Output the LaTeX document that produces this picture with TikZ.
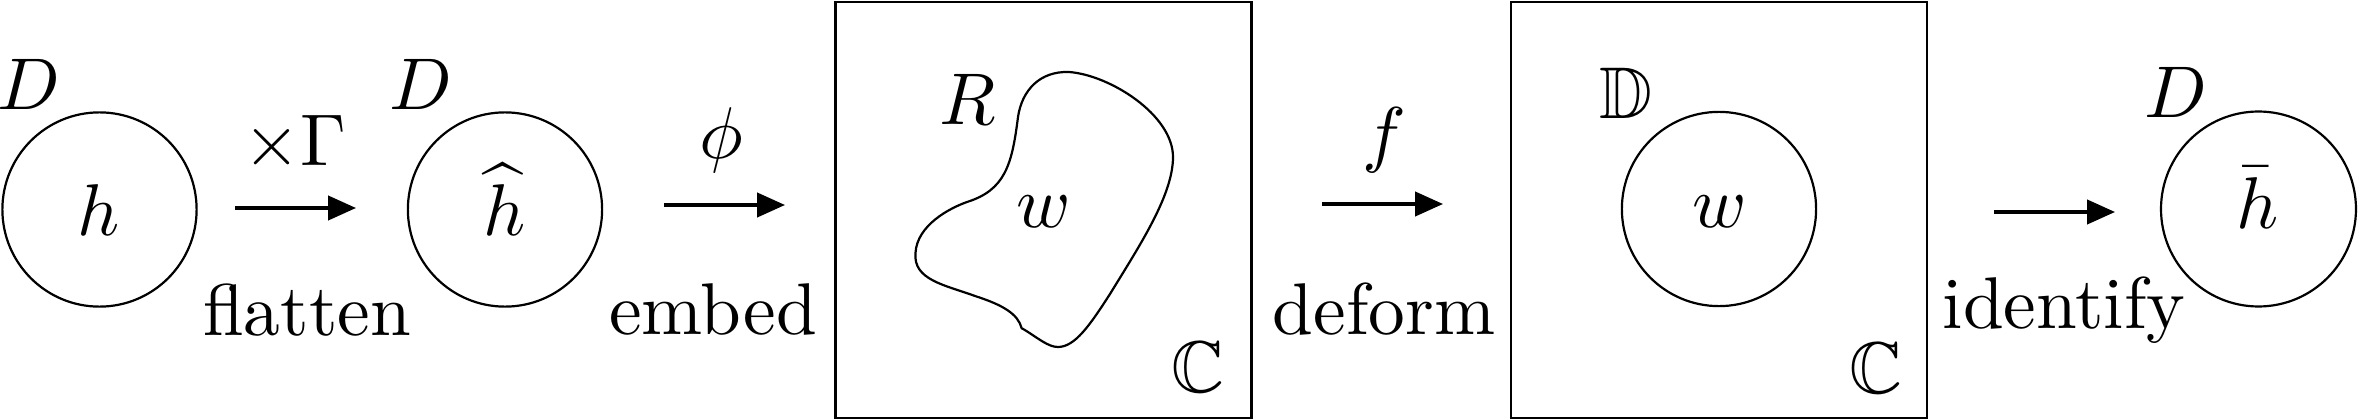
\documentclass[tikz,border=0pt]{standalone}
\usepackage{amssymb}
\usetikzlibrary{arrows.meta}
\begin{document}
\begin{tikzpicture}[x=0.13643pt, y=-0.13643pt,
  disk/.style={circle, draw, line width=0.3pt, inner sep=0pt, minimum size=26.5pt},
  plane/.style={rectangle, draw, line width=0.35pt, inner sep=0pt, minimum width=56.8pt, minimum height=56.75pt},
  arr/.style={line width=0.45pt, -{Triangle[length=3.8pt,width=3.3pt]}},
  lbl/.style={anchor=base, inner sep=0pt}]
\useasboundingbox (0,0) rectangle (2358,419);

% first disk
\node[disk] (c1) at (99.5,209.5) {};
\node[lbl] (D1) at (29,110) {$D$};
\node[lbl] (h1) at (99,236) {$h$};

% arrow 1
\coordinate (a1s) at (235,208);
\coordinate (a1e) at (356,208);
\draw[arr] (a1s) -- (a1e);
\node[lbl] (g1) at (295,165) {$\times\Gamma$};
\node[lbl] (t1) at (307,336) {flatten};

% second disk
\node[disk] (c2) at (505,209.5) {};
\node[lbl] (D2) at (421,110) {$D$};
\node[lbl] (h2) at (505,236) {$\widehat{h}$};

% arrow 2
\coordinate (a2s) at (664,205);
\coordinate (a2e) at (785,205);
\draw[arr] (a2s) -- (a2e);
\node[lbl] (p2) at (721,159) {$\phi$};
\node[lbl] (t2) at (713,335) {embed};

% first plane
\node[plane] (b1) at (1043.5,210) {};
\node[lbl] (R1) at (968,125) {$R$};
\node[lbl] (w1) at (1044,227) {$w$};
\node[lbl] (C1) at (1198,392) {$\mathbb{C}$};
\draw[line width=0.3pt, line join=round]
  (1021.7,328.3) -- (1024,329.5)
  .. controls (1038,338) and (1048,347) .. (1058,347)
  .. controls (1075,347) and (1090,325) .. (1110,294)
  .. controls (1140,245) and (1173,195) .. (1173,157)
  .. controls (1173,115) and (1110,75) .. (1069,72)
  .. controls (1040,71) and (1022,90) .. (1018,117)
  .. controls (1012,165) and (1005,190) .. (967,202)
  .. controls (950,208) and (917,225) .. (915.5,253)
  .. controls (913,280) and (945,285) .. (975,296)
  .. controls (1003,305) and (1018,314) .. (1021.7,328.3) -- cycle;

% arrow 3
\coordinate (a3s) at (1322,204);
\coordinate (a3e) at (1443,204);
\draw[arr] (a3s) -- (a3e);
\node[lbl] (f3) at (1384,159) {$f$};
\node[lbl] (t3) at (1384,335) {deform};

% second plane
\node[plane] (b2) at (1719,210) {};
\node[disk] (c4) at (1719,209) {};
\node[lbl] (DD) at (1626,118) {$\mathbb{D}$};
\node[lbl] (w2) at (1720,227) {$w$};
\node[lbl] (C2) at (1876,393) {$\mathbb{C}$};

% arrow 4
\coordinate (a4s) at (1994,212);
\coordinate (a4e) at (2115,212);
\draw[arr] (a4s) -- (a4e);
\node[lbl] (t4) at (2064,328) {identify};

% third disk
\node[disk, minimum size=26.6pt] (c3) at (2258.5,209) {};
\node[lbl] (D3) at (2176,117) {$D$};
\node[lbl] (h3) at (2258,228) {$\bar{h}$};
\end{tikzpicture}
\end{document}
